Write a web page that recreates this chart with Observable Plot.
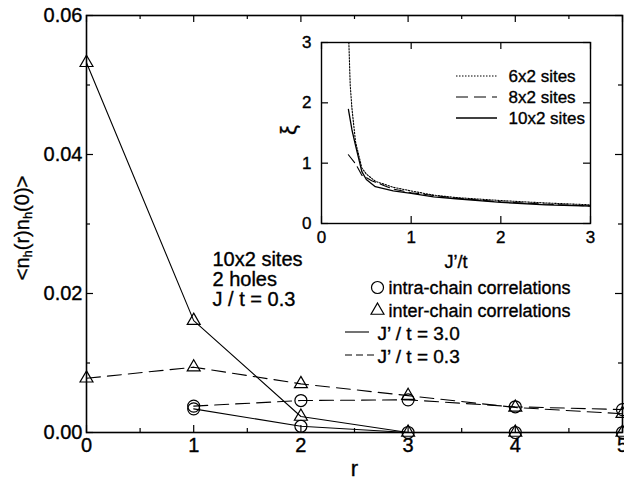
<!DOCTYPE html>
<html><head><meta charset="utf-8">
<script src="https://cdn.jsdelivr.net/npm/d3@7"></script>
<script src="https://cdn.jsdelivr.net/npm/@observablehq/plot@0.6"></script>
<style>
body{margin:0;background:#fff}
#wrap{position:relative;width:624px;height:479px}
#inset{position:absolute;left:280px;top:20px}
svg{overflow:visible}
svg text{stroke:black;stroke-width:0.35px}
</style>
</head><body><div id="wrap"><div id="main"></div><div id="inset"></div></div>
<script>
// ---- main chart data ----
const rInter = [0, 1, 2, 3, 4, 5];
const rIntra = [1, 2, 3, 4, 5];
const interJ30 = [0.0532, 0.0161, 0.0023, 0.0000, 0.0000, 0.0000];
const intraJ30 = [0.0034, 0.0009, 0.0000, 0.0000, 0.0000];
const interJ03 = [0.0078, 0.0094, 0.0070, 0.0053, 0.0036, 0.0027];
const intraJ03 = [0.0038, 0.0046, 0.0047, 0.0037, 0.0033];
const xTicks = [0, 1, 2, 3, 4, 5];
const xMinor = [0.5, 1.5, 2.5, 3.5, 4.5];
const yTicks = [0, 0.02, 0.04, 0.06];
const yMinor = [0.01, 0.03, 0.05];
const annotation = "10x2 sites\n2 holes\nJ / t = 0.3";
const legendSym = ["intra-chain correlations", "inter-chain correlations"];
const legendLine = ["J\u2019 / t = 3.0", "J\u2019 / t = 0.3"];

// ---- inset data ----
const jp6 = [0.305, 0.32, 0.34, 0.38, 0.45, 0.5, 0.6, 0.8, 1.0, 1.25, 1.5, 2.0, 2.5, 3.0];
const xi6 = [3.0, 2.3, 1.9, 1.35, 0.92, 0.82, 0.70, 0.60, 0.54, 0.47, 0.43, 0.38, 0.34, 0.31];
const jp8 = [0.3, 0.38, 0.45, 0.5, 0.56, 0.68, 0.8, 1.0, 1.5, 2.0, 2.5, 3.0];
const xi8 = [1.14, 0.99, 0.80, 0.76, 0.71, 0.64, 0.57, 0.51, 0.42, 0.36, 0.32, 0.29];
const jp10 = [0.3, 0.34, 0.38, 0.45, 0.5, 0.6, 0.8, 1.0, 1.25, 1.5, 2.0, 2.5, 3.0];
const xi10 = [1.89, 1.55, 1.29, 0.86, 0.73, 0.61, 0.54, 0.50, 0.44, 0.41, 0.35, 0.31, 0.29];
const insetTicks = [0, 1, 2, 3];
const insetLegend = ["6x2 sites", "8x2 sites", "10x2 sites"];

const pts = (xs, ys) => xs.map((x, i) => ({x, y: ys[i]}));
const FONT = "'Liberation Sans', Arial, Helvetica, sans-serif";

// ---- main plot ----
const W = 624, H = 479, ML = 86, MR = 2, MT = 15, MB = 47;
const PW = W - ML - MR, PH = H - MT - MB;
const tickMarks = (xt, yt, len, pw, ph) => [
  Plot.tickX(xt, {x: d => d, insetTop: ph - len, strokeWidth: 1.2}),
  Plot.tickX(xt, {x: d => d, insetBottom: ph - len, strokeWidth: 1.2}),
  Plot.tickY(yt, {y: d => d, insetRight: pw - len, strokeWidth: 1.2}),
  Plot.tickY(yt, {y: d => d, insetLeft: pw - len, strokeWidth: 1.2})
];
const main = Plot.plot({
  width: W, height: H,
  marginLeft: ML, marginRight: MR, marginTop: MT, marginBottom: MB,
  style: {fontFamily: FONT, fontSize: "20px", background: "transparent", color: "black", overflow: "visible"},
  x: {domain: [0, 5]},
  y: {domain: [0, 0.06]},
  marks: [
    Plot.axisX({ticks: xTicks, tickSize: 0, tickPadding: 5, tickFormat: d => String(d), label: null}),
    Plot.axisY({ticks: yTicks, tickSize: 0, tickPadding: 4, tickFormat: d3.format(".2f"), label: null}),
    ...tickMarks(xTicks, yTicks, 7, PW, PH),
    ...tickMarks(xMinor, yMinor, 4, PW, PH),
    Plot.line(pts(rInter, interJ30), {x: "x", y: "y", stroke: "black", strokeWidth: 1.1}),
    Plot.line(pts(rIntra, intraJ30), {x: "x", y: "y", stroke: "black", strokeWidth: 1.1}),
    Plot.line(pts(rInter, interJ03), {x: "x", y: "y", stroke: "black", strokeWidth: 1.1, strokeDasharray: "14,7"}),
    Plot.line(pts(rIntra, intraJ03), {x: "x", y: "y", stroke: "black", strokeWidth: 1.1, strokeDasharray: "14,7"}),
    Plot.dot(pts(rIntra, intraJ30), {x: "x", y: "y", r: 6, stroke: "black", fill: "none", strokeWidth: 1.2}),
    Plot.dot(pts(rIntra, intraJ03), {x: "x", y: "y", r: 6, stroke: "black", fill: "none", strokeWidth: 1.2}),
    Plot.dot(pts(rInter, interJ30), {x: "x", y: "y", r: 4.8, symbol: "triangle", stroke: "black", fill: "none", strokeWidth: 1.2}),
    Plot.dot(pts(rInter, interJ03), {x: "x", y: "y", r: 4.8, symbol: "triangle", stroke: "black", fill: "none", strokeWidth: 1.2}),
    Plot.frame({stroke: "black", strokeWidth: 1.6}),
    Plot.text(["r"], {frameAnchor: "bottom", lineAnchor: "bottom", dy: 43, fontSize: 22}),
    Plot.text([annotation], {frameAnchor: "top-left", textAnchor: "start", lineAnchor: "top", dx: 126, dy: 236, fontSize: 20, lineHeight: 1}),
    // symbol legend
    Plot.dot([0], {frameAnchor: "top-left", dx: 377 - ML, dy: 287 - MT, r: 6, stroke: "black", fill: "none", strokeWidth: 1.2}),
    Plot.dot([0], {frameAnchor: "top-left", dx: 377 - ML, dy: 310 - MT, r: 4.8, symbol: "triangle", stroke: "black", fill: "none", strokeWidth: 1.2}),
    Plot.text([legendSym[0]], {frameAnchor: "top-left", textAnchor: "start", lineAnchor: "bottom", dx: 388 - ML, dy: 293 - MT, fontSize: 18}),
    Plot.text([legendSym[1]], {frameAnchor: "top-left", textAnchor: "start", lineAnchor: "bottom", dx: 388 - ML, dy: 316 - MT, fontSize: 18}),
    Plot.text([legendLine[0]], {frameAnchor: "top-left", textAnchor: "start", lineAnchor: "bottom", dx: 377 - ML, dy: 339 - MT, fontSize: 19}),
    Plot.text([legendLine[1]], {frameAnchor: "top-left", textAnchor: "start", lineAnchor: "bottom", dx: 377 - ML, dy: 362 - MT, fontSize: 19})
  ]
});
document.getElementById("main").appendChild(main);
const ms = d3.select(main);
ms.append("line").attr("x1", 345).attr("x2", 369).attr("y1", 332).attr("y2", 332).attr("stroke", "black").attr("stroke-width", 1.1);
ms.append("line").attr("x1", 345).attr("x2", 374).attr("y1", 355).attr("y2", 355).attr("stroke", "black").attr("stroke-width", 1.1).attr("stroke-dasharray", "7,4");
const yl = ms.append("text").attr("transform", "translate(29,228) rotate(-90)").attr("text-anchor", "middle")
  .attr("font-family", FONT).attr("font-size", 20).attr("fill", "black");
yl.append("tspan").text("<n");
yl.append("tspan").attr("baseline-shift", "-25%").attr("font-size", 13).text("h");
yl.append("tspan").text("(r)n");
yl.append("tspan").attr("baseline-shift", "-25%").attr("font-size", 13).text("h");
yl.append("tspan").text("(0)>");

// ---- inset ----
const IW = 320, IH = 250, IML = 41, IMR = 10, IMT = 22, IMB = 47;
const IPW = IW - IML - IMR, IPH = IH - IMT - IMB;
const inset = Plot.plot({
  width: IW, height: IH,
  marginLeft: IML, marginRight: IMR, marginTop: IMT, marginBottom: IMB,
  style: {fontFamily: FONT, fontSize: "17px", background: "transparent", color: "black", overflow: "visible"},
  x: {domain: [0, 3]},
  y: {domain: [0, 3]},
  marks: [
    Plot.axisX({ticks: insetTicks, tickSize: 0, tickPadding: 7, tickFormat: d => String(d), label: null}),
    Plot.axisY({ticks: insetTicks, tickSize: 0, tickPadding: 10, tickFormat: d => String(d), label: null}),
    ...tickMarks(insetTicks, insetTicks, 7, IPW, IPH),
    Plot.line(pts(jp6, xi6), {x: "x", y: "y", stroke: "black", strokeWidth: 1.1, strokeDasharray: "1.5,1.5"}),
    Plot.line(pts(jp8, xi8), {x: "x", y: "y", stroke: "black", strokeWidth: 1.1, strokeDasharray: "10,5"}),
    Plot.line(pts(jp10, xi10), {x: "x", y: "y", stroke: "black", strokeWidth: 1.3}),
    Plot.frame({stroke: "black", strokeWidth: 1.4}),
    Plot.text(["J\u2019/t"], {frameAnchor: "bottom", lineAnchor: "bottom", dy: 44, fontSize: 18}),
    Plot.text(["\u03be"], {frameAnchor: "left", textAnchor: "middle", dx: -33, dy: -3, fontSize: 22, rotate: -90}),
    Plot.text([insetLegend[0]], {frameAnchor: "top-left", textAnchor: "start", lineAnchor: "middle", dx: 228 - IML, dy: 56 - IMT, fontSize: 17}),
    Plot.text([insetLegend[1]], {frameAnchor: "top-left", textAnchor: "start", lineAnchor: "middle", dx: 228 - IML, dy: 77 - IMT, fontSize: 17}),
    Plot.text([insetLegend[2]], {frameAnchor: "top-left", textAnchor: "start", lineAnchor: "middle", dx: 228 - IML, dy: 98 - IMT, fontSize: 17})
  ]
});
document.getElementById("inset").appendChild(inset);
const is = d3.select(inset);
is.append("line").attr("x1", 176).attr("x2", 217).attr("y1", 56).attr("y2", 56).attr("stroke", "black").attr("stroke-width", 1.1).attr("stroke-dasharray", "1.5,1.5");
is.append("line").attr("x1", 176).attr("x2", 217).attr("y1", 77).attr("y2", 77).attr("stroke", "black").attr("stroke-width", 1.1).attr("stroke-dasharray", "12,6");
is.append("line").attr("x1", 176).attr("x2", 217).attr("y1", 98).attr("y2", 98).attr("stroke", "black").attr("stroke-width", 1.3);
</script>
</body></html>
